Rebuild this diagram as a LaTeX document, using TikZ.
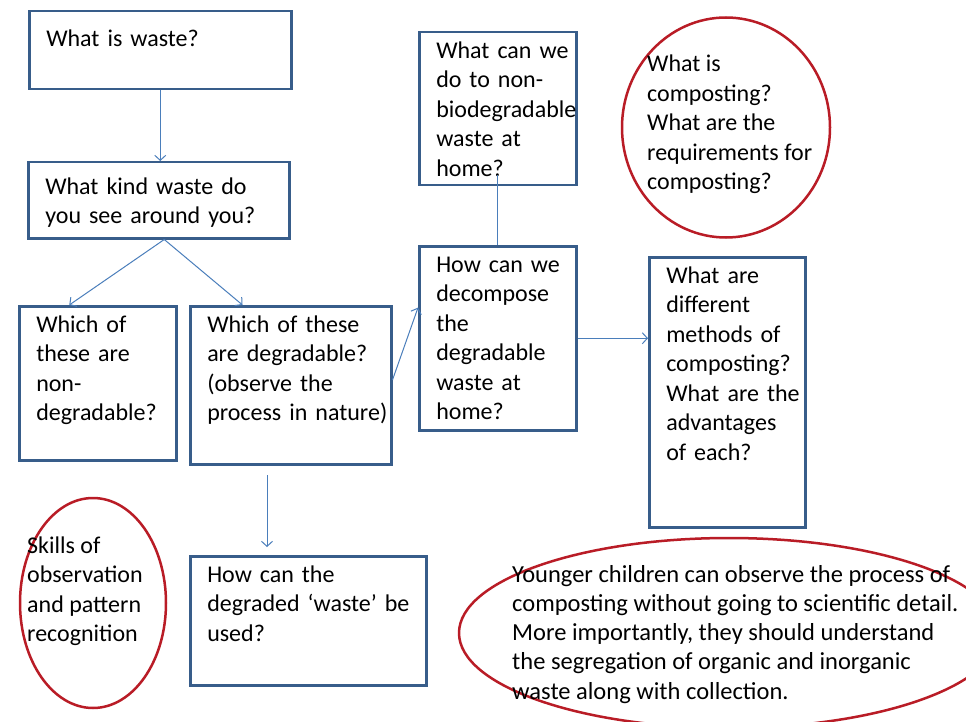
\documentclass[tikz,border=0pt]{standalone}
\usepackage{fontspec}
\setmainfont{Carlito}
\usetikzlibrary{arrows.meta}
\definecolor{boxblue}{RGB}{56,93,138}
\definecolor{linkblue}{RGB}{74,126,187}
\definecolor{ringred}{RGB}{185,28,38}
\newcommand{\qtext}[1]{\begin{tabular}[t]{@{}l@{}}#1\end{tabular}}

\begin{document}
\begin{tikzpicture}[x=1pt, y=-1pt,
    font=\fontsize{24}{29.5}\selectfont,
    qbox/.style={draw=boxblue, line width=2.5pt, anchor=north west, align=left,
        inner xsep=17pt, inner ysep=5pt, text height=21pt},
    note/.style={anchor=base west, inner sep=0pt},
    ring/.style={draw=ringred, line width=2.5pt},
    link/.style={draw=linkblue, line width=1pt, -{Straight Barb[length=5pt,width=11pt]}}]
    \fill[white] (0,0) rectangle (966,722);
    \useasboundingbox (0,0) rectangle (966,722);

    % question boxes
    \node[qbox, text width=228pt, text height=30pt, text depth=38pt] (waste) at (28,10) {\qtext{What is waste?}};
    \node[qbox, text width=227pt, text height=27pt, text depth=39pt] (kind) at (27,161) {\qtext{What kind waste do\\you see around you?}};
    \node[qbox, text width=123pt, text depth=123pt] (nondeg) at (18,305) {\qtext{Which of\\these are\\non-\\degradable?}};
    \node[qbox, text width=167pt, text depth=127pt] (deg) at (189,305) {\qtext{Which of these\\are degradable?\\(observe the\\process in nature)}};
    \node[qbox, text width=123pt, text depth=122pt] (nonbio) at (418,31) {\qtext{What can we\\do to non-\\biodegradable\\waste at\\home?}};
    \node[qbox, text width=123pt, text depth=153pt] (decomp) at (418,245) {\qtext{How can we\\decompose\\the\\degradable\\waste at\\home?}};
    \node[qbox, text width=122pt, text depth=239pt] (methods) at (648,256) {\qtext{What are\\different\\methods of\\composting?\\What are the\\advantages\\of each?}};
    \node[qbox, text width=202pt, text depth=98pt] (reuse) at (189,555) {\qtext{How can the\\degraded ‘waste’ be\\used?}};

    % notes in red rings
    \draw[ring] (726,127.5) ellipse [x radius=104, y radius=110];
    \node[note] (compost) at (647,72) {\qtext{What is\\composting?\\What are the\\requirements for\\composting?}};
    \draw[ring] (93,603) ellipse [x radius=73, y radius=105];
    \node[note] (skills) at (27,553) {\qtext{Skills of\\observation\\and pattern\\recognition}};
    \draw[ring] (729,633) ellipse [x radius=270, y radius=95];
    \node[note, font=\fontsize{24.5}{29.3}\selectfont] (younger) at (512,582) {\qtext{Younger children can observe the process of\\composting without going to scientific detail.\\More importantly, they should understand\\the segregation of organic and inorganic\\waste along with collection.}};

    % connectors
    \draw[link] (waste.south) -- (waste.south |- kind.north);
    \draw[link] (kind.278) -- (nondeg.110);
    \draw[link] (kind.278) -- (deg.121);
    \draw[link] (deg.3) -- (decomp.159);
    \coordinate (stub) at (498,175);
    \draw[link, -] (decomp.north) -- (decomp.north |- stub);
    \draw[link] (decomp.east) -- (decomp.east -| methods.west);
    \coordinate (drop) at (267,475);
    \coordinate (land) at (267,547);
    \draw[link] (drop) -- (land);
\end{tikzpicture}
\end{document}
